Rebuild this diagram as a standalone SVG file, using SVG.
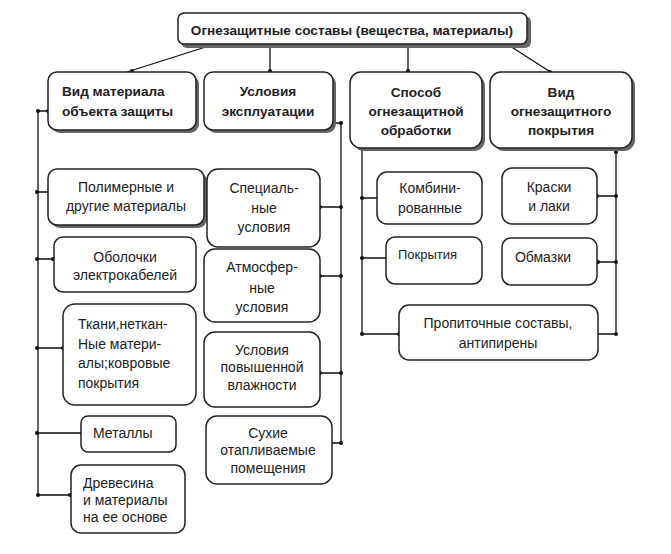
<svg xmlns="http://www.w3.org/2000/svg" width="671" height="554" viewBox="0 0 671 554">
<style>
.b{fill:#fff;stroke:#222;stroke-width:1.5}
.s{fill:#666;stroke:none}
.t{font-family:"Liberation Sans",Arial,sans-serif;font-size:14px;fill:#222}
.h{font-family:"Liberation Sans",Arial,sans-serif;font-size:13.6px;font-weight:bold;fill:#222}
.c{text-anchor:middle}
.l{stroke:#111;stroke-width:1.3;fill:none}
.d{fill:#111}
</style>
<rect width="671" height="554" fill="#fff"/>
<g id="connectors">
<path class="l" d="M212 45 L127 72 M270 45 V72 M408 45 V72 M510 46 L552 73"/>
<path class="l" d="M38 111 H48 M38 111 V495 M38 192 H49 M38 259 H54 M38 348 H63 M38 433 H82 M38 495 H71"/>
<path class="l" d="M333 123 H341 V443 M320 207 H341 M320 276 H341 M320 373 H341 M331 443 H341"/>
<path class="l" d="M362 148 V334 M362 198 H378 M362 258 H387 M362 334 H399"/>
<path class="l" d="M616 148 V334 M597 196 H616 M597 262 H616 M597 334 H616"/>
<g class="d">
<circle cx="132" cy="71" r="2"/><circle cx="270" cy="71" r="2"/><circle cx="408" cy="71" r="2"/><circle cx="550" cy="72" r="2"/>
<circle cx="38" cy="111" r="2"/><circle cx="48" cy="111" r="2"/>
<circle cx="37" cy="192" r="2"/><circle cx="50" cy="192" r="2"/>
<circle cx="37" cy="259" r="2"/><circle cx="53" cy="259" r="2"/>
<circle cx="37" cy="348" r="2"/><circle cx="63" cy="348" r="2"/>
<circle cx="37" cy="433" r="2"/><circle cx="82" cy="433" r="2"/>
<circle cx="38" cy="495" r="2"/><circle cx="70" cy="495" r="2"/>
<circle cx="333" cy="123" r="2"/><circle cx="341" cy="123" r="2"/>
<circle cx="320" cy="207" r="2"/><circle cx="341" cy="207" r="2"/>
<circle cx="320" cy="276" r="2"/><circle cx="341" cy="276" r="2"/>
<circle cx="320" cy="373" r="2"/><circle cx="341" cy="373" r="2"/>
<circle cx="331" cy="443" r="2"/><circle cx="341" cy="443" r="2"/>
<circle cx="362" cy="198" r="2"/><circle cx="380" cy="198" r="2"/>
<circle cx="362" cy="258" r="2"/><circle cx="388" cy="258" r="2"/>
<circle cx="362" cy="334" r="2"/><circle cx="399" cy="334" r="2"/>
<circle cx="616" cy="152" r="2"/>
<circle cx="597" cy="196" r="2"/><circle cx="616" cy="196" r="2"/>
<circle cx="598" cy="262" r="2"/><circle cx="616" cy="262" r="2"/>
<circle cx="596" cy="334" r="2"/><circle cx="616" cy="334" r="2"/>
</g>
</g>
<g id="root">
<rect class="s" x="181" y="16" width="350" height="32" rx="6"/>
<rect class="b" x="178" y="13" width="349" height="31" rx="6"/>
<text class="h c" x="352" y="35">Огнезащитные составы (вещества, материалы)</text>
</g>
<g id="vid-materiala">
<rect class="s" x="51" y="75" width="148" height="58" rx="9"/>
<rect class="b" x="48" y="72" width="148" height="58" rx="9"/>
<text class="h" x="62" y="96">Вид материала</text>
<text class="h" x="62" y="116">объекта защиты</text>
</g>
<g id="usloviya">
<rect class="s" x="207" y="75" width="129" height="58" rx="9"/>
<rect class="b" x="204" y="72" width="129" height="58" rx="9"/>
<text class="h c" x="268" y="96">Условия</text>
<text class="h c" x="268" y="116">эксплуатации</text>
</g>
<g id="sposob">
<rect class="s" x="353" y="75" width="132" height="76" rx="11"/>
<rect class="b" x="350" y="72" width="132" height="76" rx="11"/>
<text class="h c" x="416" y="97">Способ</text>
<text class="h c" x="416" y="116">огнезащитной</text>
<text class="h c" x="416" y="135">обработки</text>
</g>
<g id="vid-pokrytiya">
<rect class="s" x="493" y="75" width="142" height="76" rx="11"/>
<rect class="b" x="490" y="72" width="142" height="76" rx="11"/>
<text class="h c" x="561" y="97">Вид</text>
<text class="h c" x="561" y="116">огнезащитного</text>
<text class="h c" x="561" y="135">покрытия</text>
</g>
<g id="polimernye">
<rect class="s" x="51" y="172" width="156" height="56" rx="9"/>
<rect class="b" x="48" y="169" width="156" height="56" rx="9"/>
<text class="t c" x="126" y="192">Полимерные и</text>
<text class="t c" x="126" y="211">другие материалы</text>
</g>
<g id="obolochki">
<rect class="b" x="54" y="237" width="142" height="55" rx="9"/>
<text class="t c" x="125" y="262">Оболочки</text>
<text class="t c" x="125" y="280">электрокабелей</text>
</g>
<g id="tkani">
<rect class="b" x="63" y="304" width="133" height="101" rx="12"/>
<text class="t" x="78" y="329">Ткани,неткан-</text>
<text class="t" x="78" y="349">Ные матери-</text>
<text class="t" x="78" y="368">алы;ковровые</text>
<text class="t" x="78" y="388">покрытия</text>
</g>
<g id="metally">
<rect class="b" x="81" y="416" width="95" height="36" rx="7"/>
<text class="t" x="93" y="438">Металлы</text>
</g>
<g id="drevesina">
<rect class="b" x="71" y="465" width="114" height="68" rx="10"/>
<text class="t" x="83" y="488">Древесина</text>
<text class="t" x="83" y="505">и материалы</text>
<text class="t" x="83" y="522">на ее основе</text>
</g>
<g id="specialnye">
<rect class="b" x="207" y="169" width="113" height="78" rx="11"/>
<text class="t c" x="264" y="193">Специаль-</text>
<text class="t c" x="264" y="213">ные</text>
<text class="t c" x="264" y="232">условия</text>
</g>
<g id="atmosfernye">
<rect class="b" x="204" y="249" width="116" height="73" rx="11"/>
<text class="t c" x="262" y="272">Атмосфер-</text>
<text class="t c" x="262" y="293">ные</text>
<text class="t c" x="262" y="312">условия</text>
</g>
<g id="vlazhnost">
<rect class="b" x="204" y="332" width="116" height="75" rx="11"/>
<text class="t c" x="262" y="355">Условия</text>
<text class="t c" x="262" y="372">повышенной</text>
<text class="t c" x="262" y="390">влажности</text>
</g>
<g id="suhie">
<rect class="b" x="206" y="416" width="126" height="68" rx="11"/>
<text class="t c" x="268" y="438">Сухие</text>
<text class="t c" x="268" y="455">отапливаемые</text>
<text class="t c" x="268" y="473">помещения</text>
</g>
<g id="kombinirovannye">
<rect class="b" x="377" y="172" width="105" height="52" rx="10"/>
<text class="t c" x="430" y="193">Комбини-</text>
<text class="t c" x="430" y="213">рованные</text>
</g>
<g id="pokrytiya">
<rect class="b" x="386" y="237" width="96" height="47" rx="9"/>
<text class="t" x="398" y="259" style="font-size:13px">Покрытия</text>
</g>
<g id="propitochnye">
<rect class="b" x="399" y="305" width="199" height="55" rx="10"/>
<text class="t c" x="498" y="328">Пропиточные составы,</text>
<text class="t c" x="498" y="348">антипирены</text>
</g>
<g id="kraski">
<rect class="b" x="502" y="168" width="95" height="56" rx="10"/>
<text class="t c" x="549" y="192">Краски</text>
<text class="t c" x="549" y="211">и лаки</text>
</g>
<g id="obmazki">
<rect class="b" x="502" y="238" width="95" height="47" rx="9"/>
<text class="t c" x="543" y="262">Обмазки</text>
</g>
</svg>
